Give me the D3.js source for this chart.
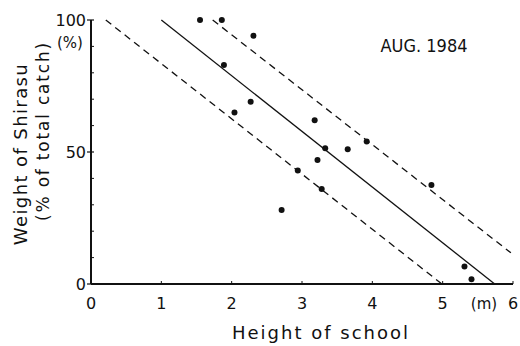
<!DOCTYPE html>
<html>
<head>
<meta charset="utf-8">
<script src="https://cdn.jsdelivr.net/npm/d3@7"></script>
<style>
  body { margin: 0; background: #fff; }
  text { font-family: "DejaVu Sans", sans-serif; fill: #111; }
</style>
</head>
<body>
<div id="chart"></div>
<script>
var width = 520, height = 346;

// school height (m) vs shirasu weight (%)
var heights = [1.55, 1.86, 2.31, 1.89, 2.27, 2.04, 3.18, 3.92, 3.33, 3.65, 3.22, 2.94, 4.84, 3.28, 2.71, 5.31, 5.41];
var weights = [100, 100, 94, 83, 69, 65, 62, 54, 51.4, 51, 47, 43, 37.5, 36, 28, 6.6, 1.8];

// regression line and its bounds: [x1, y1, x2, y2]
var fitLine = [1.0, 100, 5.74, 0];
var upperLine = [1.73, 100, 5.97, 11.8];
var lowerLine = [0.21, 100, 4.99, 0];

var xTicks = [0, 1, 2, 3, 4, 5, 6];
var yTicks = [0, 50, 100];
var yMinor = [10, 20, 30, 40, 60, 70, 80, 90];

var x = d3.scaleLinear().domain([0, 6]).range([91, 513]);
var y = d3.scaleLinear().domain([0, 100]).range([284, 20]);

var svg = d3.select("#chart").append("svg")
    .attr("width", width)
    .attr("height", height);

// axes lines
svg.append("line")
    .attr("x1", x(0)).attr("x2", x(0))
    .attr("y1", y(100)).attr("y2", y(0))
    .attr("stroke", "#111").attr("stroke-width", 2);
svg.append("line")
    .attr("x1", x(0)).attr("x2", x(6))
    .attr("y1", y(0)).attr("y2", y(0))
    .attr("stroke", "#111").attr("stroke-width", 2);

// y ticks
svg.selectAll(".ymaj").data(yTicks).enter()
    .append("line")
    .attr("x1", x(0) - 4).attr("x2", x(0) + 3)
    .attr("y1", d => y(d)).attr("y2", d => y(d))
    .attr("stroke", "#111").attr("stroke-width", 1.2);
svg.selectAll(".ymin").data(yMinor).enter()
    .append("line")
    .attr("x1", x(0)).attr("x2", x(0) + 3)
    .attr("y1", d => y(d)).attr("y2", d => y(d))
    .attr("stroke", "#111").attr("stroke-width", 1);

svg.selectAll(".ylab").data(yTicks).enter()
    .append("text")
    .attr("x", x(0) - 5)
    .attr("y", d => y(d) + 6)
    .attr("text-anchor", "end")
    .style("font-size", "16px")
    .text(d => d);

svg.append("text")
    .attr("x", 70).attr("y", 48)
    .attr("text-anchor", "middle")
    .style("font-size", "15px")
    .text("(%)");

// x ticks
svg.selectAll(".xt").data(xTicks).enter()
    .append("line")
    .attr("x1", d => x(d)).attr("x2", d => x(d))
    .attr("y1", y(0)).attr("y2", y(0) - 3)
    .attr("stroke", "#111").attr("stroke-width", 1);

svg.selectAll(".xlab").data(xTicks).enter()
    .append("text")
    .attr("x", d => x(d))
    .attr("y", 309)
    .attr("text-anchor", "middle")
    .style("font-size", "16px")
    .text(d => d);

svg.append("text")
    .attr("x", 484).attr("y", 309)
    .attr("text-anchor", "middle")
    .style("font-size", "15px")
    .text("(m)");

// axis titles
svg.append("text")
    .attr("x", 321).attr("y", 339)
    .attr("text-anchor", "middle")
    .style("font-size", "18px")
    .style("letter-spacing", "2px")
    .text("Height of school");

svg.append("text")
    .attr("transform", "translate(27,154) rotate(-90)")
    .attr("text-anchor", "middle")
    .style("font-size", "18px")
    .style("letter-spacing", "1.4px")
    .text("Weight of Shirasu");

svg.append("text")
    .attr("transform", "translate(49,131) rotate(-90)")
    .attr("text-anchor", "middle")
    .style("font-size", "17px")
    .style("letter-spacing", "1.8px")
    .text("(% of total catch)");

// title
svg.append("text")
    .attr("x", 424).attr("y", 52)
    .attr("text-anchor", "middle")
    .style("font-family", "'DejaVu Sans Condensed', sans-serif")
    .style("font-size", "18px")
    .text("AUG. 1984");

// regression lines
function drawLine(l, dash) {
    svg.append("line")
        .attr("x1", x(l[0])).attr("y1", y(l[1]))
        .attr("x2", x(l[2])).attr("y2", y(l[3]))
        .attr("stroke", "#111")
        .attr("stroke-width", 1.3)
        .attr("stroke-dasharray", dash);
}
drawLine(fitLine, null);
drawLine(upperLine, "7,5");
drawLine(lowerLine, "7,5");

// points
svg.selectAll("circle")
    .data(heights).enter()
    .append("circle")
    .attr("cx", d => x(d))
    .attr("cy", (d, i) => y(weights[i]))
    .attr("r", 3)
    .attr("fill", "#111");
</script>
</body>
</html>
